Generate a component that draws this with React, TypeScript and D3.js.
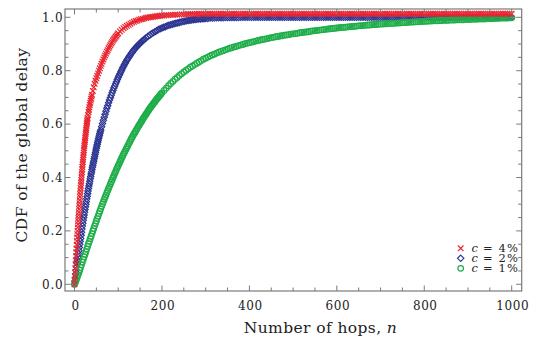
import React from "react";
import * as d3 from "d3";

// ---------- data ----------
const hopsRed: number[] = [
  ...d3.range(0, 30.01, 0.5),
  ...d3.range(31, 41, 1),
  ...d3.range(42, 101, 2),
  ...d3.range(104, 201, 4),
  ...d3.range(205, 1001, 5),
];
const cdfRed: number[] = [
  0, 0.015, 0.03, 0.045, 0.06, 0.075, 0.09, 0.105, 0.12, 0.134, 0.148, 0.162, 0.175, 0.188, 0.2, 0.213, 0.225, 0.237, 0.248, 0.259,
  0.27, 0.282, 0.293, 0.304, 0.315, 0.327, 0.338, 0.349, 0.36, 0.37, 0.38, 0.39, 0.4, 0.41, 0.42, 0.43, 0.44, 0.449, 0.458, 0.467,
  0.475, 0.484, 0.493, 0.502, 0.51, 0.518, 0.525, 0.533, 0.54, 0.548, 0.555, 0.563, 0.57, 0.578, 0.585, 0.593, 0.6, 0.606, 0.612, 0.618,
  0.623,
  0.634, 0.645, 0.654, 0.663, 0.672, 0.68, 0.688, 0.695, 0.703, 0.71,
  0.724, 0.738, 0.751, 0.762, 0.772, 0.781, 0.79, 0.8, 0.809, 0.818, 0.826, 0.834, 0.842, 0.85, 0.857, 0.864, 0.871, 0.877, 0.884, 0.89,
  0.896, 0.902, 0.907, 0.913, 0.918, 0.922, 0.927, 0.931, 0.936, 0.94,
  0.947, 0.953, 0.959, 0.964, 0.968, 0.972, 0.976, 0.98, 0.983, 0.986, 0.988, 0.991, 0.993, 0.994, 0.996, 0.998, 0.999, 1.0, 1.001, 1.002,
  1.003, 1.004, 1.005, 1.006, 1.007,
  1.007, 1.008, 1.008, 1.009, 1.009, 1.01, 1.01, 1.01, 1.011, 1.011, 1.011, 1.012, 1.012, 1.012, 1.012, 1.012, 1.013, 1.013, 1.013, 1.013,
  1.013, 1.013, 1.013, 1.013, 1.013, 1.013, 1.013, 1.013, 1.013, 1.013, 1.013, 1.013, 1.013, 1.013, 1.013, 1.013, 1.013, 1.013, 1.013, 1.013,
  1.013, 1.013, 1.013, 1.013, 1.013, 1.013, 1.013, 1.013, 1.013, 1.013, 1.013, 1.013, 1.013, 1.013, 1.013, 1.013, 1.013, 1.013, 1.013, 1.013,
  1.013, 1.013, 1.013, 1.013, 1.013, 1.013, 1.013, 1.013, 1.013, 1.013, 1.013, 1.013, 1.013, 1.013, 1.013, 1.013, 1.013, 1.013, 1.013, 1.013,
  1.013, 1.013, 1.013, 1.013, 1.013, 1.013, 1.013, 1.013, 1.013, 1.013, 1.013, 1.013, 1.013, 1.013, 1.013, 1.013, 1.013, 1.013, 1.013, 1.013,
  1.013, 1.013, 1.013, 1.013, 1.013, 1.013, 1.013, 1.013, 1.013, 1.013, 1.013, 1.013, 1.013, 1.013, 1.013, 1.013, 1.013, 1.013, 1.013, 1.013,
  1.013, 1.013, 1.013, 1.013, 1.013, 1.013, 1.013, 1.013, 1.013, 1.013, 1.013, 1.013, 1.013, 1.013, 1.013, 1.013, 1.013, 1.013, 1.013, 1.013,
  1.013, 1.013, 1.013, 1.013, 1.013, 1.013, 1.013, 1.013, 1.013, 1.013, 1.013, 1.013, 1.013, 1.013, 1.013, 1.013, 1.013, 1.013, 1.013, 1.013,
];

const hopsBlue: number[] = [
  ...d3.range(0, 61, 1),
  ...d3.range(62, 161, 2),
  ...d3.range(164, 301, 4),
  ...d3.range(305, 1001, 5),
];
const cdfBlue: number[] = [
  0, 0.012, 0.025, 0.039, 0.052, 0.065, 0.078, 0.09, 0.102, 0.114, 0.126, 0.138, 0.15, 0.161, 0.172, 0.184, 0.195, 0.207, 0.218, 0.229,
  0.24, 0.25, 0.26, 0.27, 0.28, 0.29, 0.3, 0.31, 0.32, 0.33, 0.34, 0.349, 0.359, 0.368, 0.377, 0.386, 0.395, 0.404, 0.413, 0.421,
  0.43, 0.438, 0.446, 0.454, 0.462, 0.47, 0.478, 0.486, 0.494, 0.502, 0.51, 0.517, 0.524, 0.531, 0.538, 0.545, 0.552, 0.558, 0.565, 0.571,
  0.578,
  0.59, 0.602, 0.614, 0.626, 0.637, 0.648, 0.659, 0.669, 0.68, 0.69, 0.699, 0.708, 0.717, 0.726, 0.735, 0.743, 0.751, 0.759, 0.767, 0.775,
  0.782, 0.789, 0.796, 0.803, 0.81, 0.816, 0.822, 0.828, 0.834, 0.84, 0.845, 0.85, 0.855, 0.86, 0.865, 0.869, 0.874, 0.878, 0.882, 0.886,
  0.889, 0.893, 0.896, 0.9, 0.903, 0.906, 0.909, 0.912, 0.915, 0.918,
  0.923, 0.929, 0.933, 0.938, 0.942, 0.946, 0.95, 0.954, 0.957, 0.96, 0.963, 0.965, 0.968, 0.97, 0.972, 0.974, 0.976, 0.978, 0.979, 0.981,
  0.982, 0.984, 0.985, 0.987, 0.988, 0.989, 0.99, 0.991, 0.992, 0.993, 0.994, 0.994, 0.995, 0.995, 0.996,
  0.996, 0.997, 0.997, 0.997, 0.998, 0.998, 0.998, 0.998, 0.999, 0.999, 0.999, 0.999, 0.999, 0.999, 0.999, 1.0, 1.0, 1.0, 1.0, 1.0,
  1.0, 1.0, 1.0, 1.0, 1.0, 1.0, 1.0, 1.0, 1.0, 1.0, 1.0, 1.0, 1.0, 1.0, 1.0, 1.0, 1.0, 1.0, 1.0, 1.0,
  1.0, 1.0, 1.0, 1.0, 1.0, 1.0, 1.0, 1.0, 1.0, 1.0, 1.0, 1.0, 1.0, 1.0, 1.0, 1.0, 1.0, 1.0, 1.0, 1.0,
  1.0, 1.0, 1.0, 1.0, 1.0, 1.0, 1.0, 1.0, 1.0, 1.0, 1.0, 1.0, 1.0, 1.0, 1.0, 1.0, 1.0, 1.0, 1.0, 1.0,
  1.0, 1.0, 1.0, 1.0, 1.0, 1.0, 1.0, 1.0, 1.0, 1.0, 1.0, 1.0, 1.0, 1.0, 1.0, 1.0, 1.0, 1.0, 1.0, 1.0,
  1.0, 1.0, 1.0, 1.0, 1.0, 1.0, 1.0, 1.0, 1.0, 1.0, 1.0, 1.0, 1.0, 1.0, 1.0, 1.0, 1.0, 1.0, 1.0, 1.0,
  1.0, 1.0, 1.0, 1.0, 1.0, 1.0, 1.0, 1.0, 1.0, 1.0, 1.0, 1.0, 1.0, 1.0, 1.0, 1.0, 1.0, 1.0, 1.0, 1.0,
];

const hopsGreen: number[] = [...d3.range(0, 201, 2), ...d3.range(205, 1001, 5)];
const cdfGreen: number[] = [
  0, 0.008, 0.016, 0.025, 0.034, 0.043, 0.053, 0.063, 0.073, 0.083, 0.093, 0.103, 0.112, 0.122, 0.132, 0.142, 0.152, 0.161, 0.171, 0.18,
  0.19, 0.2, 0.209, 0.219, 0.228, 0.237, 0.246, 0.255, 0.265, 0.274, 0.283, 0.292, 0.301, 0.309, 0.318, 0.326, 0.334, 0.343, 0.351, 0.359,
  0.367, 0.375, 0.383, 0.391, 0.399, 0.407, 0.415, 0.422, 0.43, 0.437, 0.444, 0.451, 0.459, 0.466, 0.473, 0.48, 0.487, 0.493, 0.5, 0.506,
  0.513, 0.519, 0.526, 0.532, 0.539, 0.545, 0.551, 0.557, 0.563, 0.568, 0.574, 0.58, 0.585, 0.591, 0.596, 0.602, 0.607, 0.612, 0.618, 0.623,
  0.628, 0.633, 0.638, 0.643, 0.648, 0.653, 0.658, 0.662, 0.667, 0.671, 0.676, 0.68, 0.684, 0.689, 0.693, 0.697, 0.701, 0.705, 0.709, 0.713,
  0.717,
  0.726, 0.735, 0.744, 0.752, 0.76, 0.768, 0.775, 0.782, 0.789, 0.795, 0.801, 0.807, 0.813, 0.818, 0.823, 0.828, 0.833, 0.838, 0.843, 0.847,
  0.851, 0.855, 0.859, 0.862, 0.866, 0.869, 0.872, 0.875, 0.878, 0.881, 0.884, 0.886, 0.889, 0.891, 0.894, 0.896, 0.898, 0.901, 0.903, 0.905,
  0.907, 0.909, 0.911, 0.913, 0.915, 0.917, 0.918, 0.92, 0.922, 0.924, 0.925, 0.927, 0.928, 0.93, 0.931, 0.933, 0.934, 0.935, 0.937, 0.938,
  0.939, 0.94, 0.942, 0.943, 0.944, 0.945, 0.946, 0.948, 0.949, 0.95, 0.951, 0.952, 0.953, 0.954, 0.955, 0.956, 0.957, 0.958, 0.959, 0.96,
  0.961, 0.962, 0.962, 0.963, 0.964, 0.965, 0.966, 0.966, 0.967, 0.968, 0.969, 0.969, 0.97, 0.971, 0.971, 0.972, 0.973, 0.973, 0.974, 0.975,
  0.975, 0.976, 0.976, 0.977, 0.977, 0.978, 0.978, 0.979, 0.979, 0.98, 0.98, 0.981, 0.981, 0.982, 0.982, 0.983, 0.983, 0.984, 0.984, 0.985,
  0.985, 0.986, 0.986, 0.987, 0.987, 0.987, 0.988, 0.988, 0.989, 0.989, 0.989, 0.99, 0.99, 0.99, 0.991, 0.991, 0.991, 0.991, 0.992, 0.992,
  0.992, 0.993, 0.993, 0.993, 0.994, 0.994, 0.994, 0.994, 0.995, 0.995, 0.995, 0.996, 0.996, 0.996, 0.997, 0.997, 0.997, 0.997, 0.998, 0.998,
];

const seriesSymbols = ["c", "c", "c"];
const seriesValues = ["= 4%", "= 2%", "= 1%"];
const xTicks = [0, 200, 400, 600, 800, 1000];
const yTicks = [0, 0.2, 0.4, 0.6, 0.8, 1.0];
const yTickLabels = ["0.0", "0.2", "0.4", "0.6", "0.8", "1.0"];

// ---------- layout ----------
const W = 538;
const H = 343;
const frame = { left: 65, right: 521.7, top: 9, bottom: 291 };
const RED = "#ea2530";
const BLUE = "#2c3592";
const GREEN = "#1fae4a";
const AXIS = "#7a7a7a";
const TXT = { fontFamily: "'DejaVu Serif', serif" };

const x = d3.scaleLinear().domain([0, 1000]).range([74.5, 511.7]);
const y = d3.scaleLinear().domain([0, 1]).range([284.3, 17.3]);

const crossPath = "M-2.8,-2.8L2.8,2.8M-2.8,2.8L2.8,-2.8";
const diamondPath = "M0,-3.2L3.2,0L0,3.2L-3.2,0Z";

function Cross({ cx, cy }: { cx: number; cy: number }) {
  return <path d={crossPath} transform={`translate(${cx},${cy})`} fill="none" stroke={RED} strokeWidth={1.2} />;
}
function Diamond({ cx, cy }: { cx: number; cy: number }) {
  return <path d={diamondPath} transform={`translate(${cx},${cy})`} fill="none" stroke={BLUE} strokeWidth={1.15} />;
}
function Ring({ cx, cy }: { cx: number; cy: number }) {
  return <circle cx={cx} cy={cy} r={2.8} fill="none" stroke={GREEN} strokeWidth={1.25} />;
}

export default function App() {
  const xMinor = d3.range(0, 1001, 50);
  const yMinor = d3.range(0, 1.001, 0.05);
  const nB = Math.min(hopsBlue.length, cdfBlue.length);
  const nG = Math.min(hopsGreen.length, cdfGreen.length);
  const nR = Math.min(hopsRed.length, cdfRed.length);

  return (
    <svg width={W} height={H} style={{ position: "absolute", left: 0, top: 0, background: "#fff" }}>
      <rect x={0} y={0} width={W} height={H} fill="#fff" />
      {/* series */}
      <g>
        {d3.range(nB).map((i) => (
          <Diamond key={"b" + i} cx={x(hopsBlue[i])} cy={y(cdfBlue[i])} />
        ))}
      </g>
      <g>
        {d3.range(nG).map((i) => (
          <Ring key={"g" + i} cx={x(hopsGreen[i])} cy={y(cdfGreen[i])} />
        ))}
      </g>
      <g>
        {d3.range(nR).map((i) => (
          <Cross key={"r" + i} cx={x(hopsRed[i])} cy={y(cdfRed[i])} />
        ))}
      </g>

      {/* frame */}
      <rect
        x={frame.left}
        y={frame.top}
        width={frame.right - frame.left}
        height={frame.bottom - frame.top}
        fill="none"
        stroke={AXIS}
        strokeWidth={1.2}
      />
      {xMinor.map((v) => {
        const major = v % 200 === 0;
        const len = major ? 5.5 : 3.5;
        return (
          <g key={"xt" + v} stroke={AXIS} strokeWidth={1}>
            <line x1={x(v)} x2={x(v)} y1={frame.bottom} y2={frame.bottom - len} />
            <line x1={x(v)} x2={x(v)} y1={frame.top} y2={frame.top + len} />
          </g>
        );
      })}
      {yMinor.map((v, i) => {
        const major = i % 4 === 0;
        const len = major ? 5.5 : 3.5;
        return (
          <g key={"yt" + i} stroke={AXIS} strokeWidth={1}>
            <line x1={frame.left} x2={frame.left + len} y1={y(v)} y2={y(v)} />
            <line x1={frame.right} x2={frame.right - len} y1={y(v)} y2={y(v)} />
          </g>
        );
      })}
      {xTicks.map((v) => (
        <text key={"xl" + v} x={x(v) + 1} y={310} textAnchor="middle" fontSize={12} fill="#222" letterSpacing={0.6} style={TXT}>
          {String(v)}
        </text>
      ))}
      {yTicks.map((v, i) => (
        <text key={"yl" + i} x={63.5} y={y(v) + 4.3} textAnchor="end" fontSize={12} fill="#222" letterSpacing={0.8} style={TXT}>
          {yTickLabels[i]}
        </text>
      ))}
      <text x={320.5} y={333} textAnchor="middle" fontSize={15.5} fill="#222" letterSpacing={0.4} style={TXT}>
        Number of hops, <tspan fontStyle="italic">n</tspan>
      </text>
      <text
        transform={`translate(27,${(frame.top + frame.bottom) / 2 - 5}) rotate(-90)`}
        textAnchor="middle"
        fontSize={15.5}
        fill="#222"
        letterSpacing={0.4}
        style={TXT}
      >
        CDF of the global delay
      </text>

      {/* legend */}
      <g>
        <Cross cx={460.7} cy={248.3} />
        <Diamond cx={460.7} cy={258.3} />
        <Ring cx={460.7} cy={268.3} />
        {seriesSymbols.map((s, i) => (
          <g key={"lg" + i}>
            <text x={471.5} y={252.3 + i * 10} fontSize={11.5} fill="#222" fontStyle="italic" style={TXT}>
              {s}
            </text>
            <text x={483} y={252.3 + i * 10} fontSize={11.5} fill="#222" letterSpacing={1.1} style={TXT}>
              {seriesValues[i]}
            </text>
          </g>
        ))}
      </g>
    </svg>
  );
}
